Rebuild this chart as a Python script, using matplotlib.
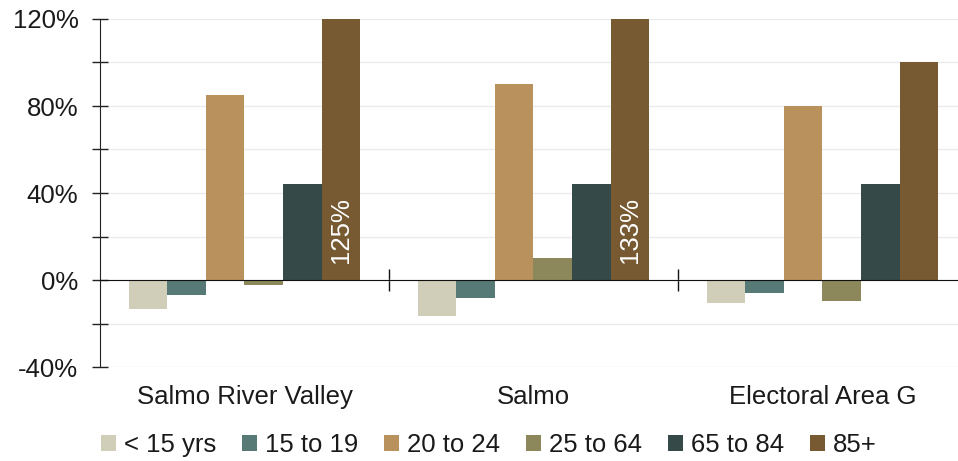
import numpy as np
import matplotlib.pyplot as plt
from matplotlib.ticker import MultipleLocator, FuncFormatter

plt.rcParams['font.family'] = ['Liberation Sans', 'DejaVu Sans']

# ==== data ====
regions = ['Salmo River Valley', 'Salmo', 'Electoral Area G']
age_groups = ['< 15 yrs', '15 to 19', '20 to 24', '25 to 64', '65 to 84', '85+']
under_15 = [-13.5, -16.5, -10.7]
age_15_19 = [-6.9, -8.1, -6.1]
age_20_24 = [85, 90, 80]
age_25_64 = [-2.4, 10, -9.5]
age_65_84 = [44.3, 44.3, 44.3]
age_85_plus = [125, 133, 100]
series = [under_15, age_15_19, age_20_24, age_25_64, age_65_84, age_85_plus]
colors = ['#d0ceb8', '#577a76', '#b9915c', '#8c885c', '#364949', '#775a32']

y_min, y_max = -40, 120
fs = 18.5

fig = plt.figure(figsize=(9.58, 4.61), dpi=100)
# axes slightly wider than figure: the right end is cut off in the reference
ax = fig.add_axes([100 / 958, 94 / 461, 867 / 958, 348 / 461])

x = np.arange(len(regions))
n = len(series)
w = 0.8 / n
for i, (vals, col, lab) in enumerate(zip(series, colors, age_groups)):
    pos = x - 0.4 + w * (i + 0.5)
    ax.bar(pos, vals, width=w, color=col, label=lab, linewidth=0, zorder=3)
    # values that run past the top get written inside the bar
    for p, v in zip(pos, vals):
        if v > y_max:
            ax.text(p, 7.8, f'{v:.0f}%', rotation=90, ha='center', va='bottom',
                    color='white', fontsize=fs, zorder=4)

ax.set_xlim(-0.5, 2.5)
ax.set_ylim(y_min, y_max)

# y axis
ax.yaxis.set_major_locator(MultipleLocator(40))
ax.yaxis.set_minor_locator(MultipleLocator(20))
ax.yaxis.set_major_formatter(FuncFormatter(lambda v, _: f'{v:.0f}%'))
ax.tick_params(axis='y', which='both', direction='inout', length=11, width=1, colors='#222222',
               labelsize=fs, labelcolor='#1a1a1a', pad=10)
ax.grid(axis='y', which='both', color='#ebebeb', linewidth=1, zorder=0)

# x axis sits on zero, ticks only between groups
ax.spines['bottom'].set_position(('data', 0))
ax.spines['bottom'].set_color('#111111')
ax.spines['bottom'].set_zorder(5)
ax.spines['left'].set_color('#222222')
ax.spines['top'].set_visible(False)
ax.spines['right'].set_visible(False)
ax.set_xticks(x[:-1] + 0.5)
ax.tick_params(axis='x', direction='inout', length=16, width=1, colors='#111111', labelbottom=False)

for xi, name in zip(x, regions):
    ax.text(xi, -0.087, name, transform=ax.get_xaxis_transform(), ha='center', va='center',
            fontsize=fs, color='#1a1a1a')

fig.legend(loc='center', bbox_to_anchor=(0.51, 0.035), ncol=6, frameon=False, fontsize=fs,
           handlelength=0.6, handleheight=0.6, handletextpad=0.3, columnspacing=1.0,
           labelcolor='#1a1a1a')

fig.savefig('out.png', dpi=100)
